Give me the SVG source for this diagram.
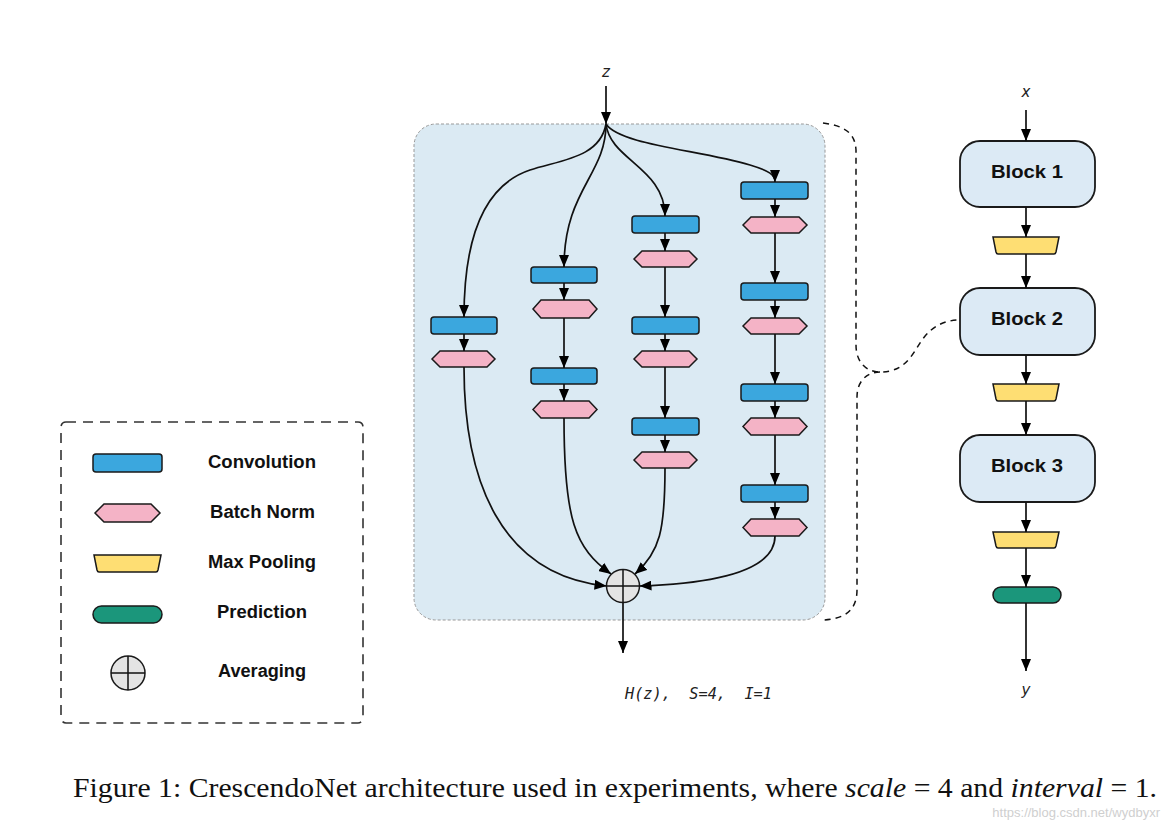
<svg xmlns="http://www.w3.org/2000/svg" width="1173" height="828" viewBox="0 0 1173 828">
<style>
.conv{fill:#3ba7de;stroke:#1a1a1a;stroke-width:1.5}
.bn{fill:#f4b3c6;stroke:#1a1a1a;stroke-width:1.5}
.mp{fill:#fede73;stroke:#1a1a1a;stroke-width:1.5}
.pred{fill:#1b967b;stroke:#1a1a1a;stroke-width:1.5}
.avg{fill:#e4e4e4;stroke:#1a1a1a;stroke-width:1.5}
.blk{fill:#dceaf5;stroke:#1a1a1a;stroke-width:1.8}
.edge{fill:none;stroke:#111;stroke-width:1.7;marker-end:url(#ah)}
.line{fill:none;stroke:#111;stroke-width:1.5}
.lbl{font-family:"Liberation Sans",Arial,sans-serif;font-weight:bold;font-size:17.5px;fill:#111}
.var{font-family:"DejaVu Sans","Liberation Sans",sans-serif;font-style:italic;font-size:15px;fill:#222;text-anchor:middle}
.dash{fill:none;stroke:#111;stroke-width:1.5;stroke-dasharray:6,5}
</style>
<defs>
<marker id="ah" markerUnits="userSpaceOnUse" markerWidth="12" markerHeight="10" refX="12" refY="5" orient="auto" viewBox="0 0 12 10">
<path d="M0,0 L12,5 L0,10 z" fill="#000"/>
</marker>
</defs>
<rect width="1173" height="828" fill="#fff"/>

<!-- main block container -->
<g id="block-detail">
<rect x="414" y="124" width="411" height="496" rx="22" fill="#dbeaf3" stroke="#999" stroke-width="1" stroke-dasharray="3,2"/>
</g>

<!-- legend -->
<g id="legend">
<rect x="61" y="422" width="302" height="301" rx="5" fill="none" stroke="#333" stroke-width="1.6" stroke-dasharray="10,7"/>
<rect class="conv" x="93" y="454" width="69" height="18" rx="3"/>
<text class="lbl" x="208" y="468" textLength="108" lengthAdjust="spacingAndGlyphs">Convolution</text>
<path class="bn" d="M95,513 L104,504 L151,504 L160,513 L151,522 L104,522 z"/>
<text class="lbl" x="210" y="518" textLength="105" lengthAdjust="spacingAndGlyphs">Batch Norm</text>
<path class="mp" d="M94,555 L161,555 L158,570 Q157.5,572 156,572 L99,572 Q97.5,572 97,570 z"/>
<text class="lbl" x="208" y="568" textLength="108" lengthAdjust="spacingAndGlyphs">Max Pooling</text>
<rect class="pred" x="93" y="606" width="69" height="17" rx="8.5"/>
<text class="lbl" x="217" y="618" textLength="90" lengthAdjust="spacingAndGlyphs">Prediction</text>
<circle class="avg" cx="128" cy="673" r="17"/>
<path class="line" d="M128,656 V690 M111,673 H145"/>
<text class="lbl" x="218" y="677" textLength="88" lengthAdjust="spacingAndGlyphs">Averaging</text>
</g>

<!-- nodes in block -->
<g id="col1">
<rect class="conv" x="431" y="317" width="66" height="17" rx="3"/>
<path class="bn" d="M432,359 L440,351 L487,351 L495,359 L487,367 L440,367 z"/>
</g>
<g id="col2">
<rect class="conv" x="531" y="267" width="66" height="16" rx="3"/>
<path class="bn" d="M533,309 L541,300 L589,300 L597,309 L589,318 L541,318 z"/>
<rect class="conv" x="531" y="368" width="66" height="16" rx="3"/>
<path class="bn" d="M533,409.5 L541,401 L589,401 L597,409.5 L589,418 L541,418 z"/>
</g>
<g id="col3">
<rect class="conv" x="632" y="216" width="67" height="17" rx="3"/>
<path class="bn" d="M634,259 L642,251 L689,251 L697,259 L689,267 L642,267 z"/>
<rect class="conv" x="632" y="317" width="67" height="17" rx="3"/>
<path class="bn" d="M634,359 L642,351 L689,351 L697,359 L689,367 L642,367 z"/>
<rect class="conv" x="632" y="418" width="67" height="17" rx="3"/>
<path class="bn" d="M634,460 L642,452 L689,452 L697,460 L689,468 L642,468 z"/>
</g>
<g id="col4">
<rect class="conv" x="741" y="182" width="67" height="17" rx="3"/>
<path class="bn" d="M743,225 L751,217 L799,217 L807,225 L799,233 L751,233 z"/>
<rect class="conv" x="741" y="283" width="67" height="17" rx="3"/>
<path class="bn" d="M743,326 L751,318 L799,318 L807,326 L799,334 L751,334 z"/>
<rect class="conv" x="741" y="384" width="67" height="17" rx="3"/>
<path class="bn" d="M743,426.5 L751,418 L799,418 L807,426.5 L799,435 L751,435 z"/>
<rect class="conv" x="741" y="485" width="67" height="17" rx="3"/>
<path class="bn" d="M743,527.5 L751,519 L799,519 L807,527.5 L799,536 L751,536 z"/>
</g>
<g id="average">
<circle class="avg" cx="623" cy="586" r="16.5"/>
<path class="line" d="M623,569.5 V602.5 M606.5,586 H639.5"/>
</g>

<!-- right column -->
<g id="block1">
<rect class="blk" x="960" y="141" width="135" height="66" rx="20"/>
<text class="lbl" x="991" y="178" style="font-size:19px" textLength="72" lengthAdjust="spacingAndGlyphs">Block 1</text>
</g>
<g id="pool1"><path class="mp" d="M993,237 L1059,237 L1056,252 Q1055.5,254 1054,254 L998,254 Q996.5,254 996,252 z"/></g>
<g id="block2">
<rect class="blk" x="960" y="288" width="135" height="67" rx="20"/>
<text class="lbl" x="991" y="325" style="font-size:19px" textLength="72" lengthAdjust="spacingAndGlyphs">Block 2</text>
</g>
<g id="pool2"><path class="mp" d="M993,384 L1059,384 L1056,399 Q1055.5,401 1054,401 L998,401 Q996.5,401 996,399 z"/></g>
<g id="block3">
<rect class="blk" x="960" y="435" width="135" height="67" rx="20"/>
<text class="lbl" x="991" y="472" style="font-size:19px" textLength="72" lengthAdjust="spacingAndGlyphs">Block 3</text>
</g>
<g id="pool3"><path class="mp" d="M993,532 L1059,532 L1056,546 Q1055.5,548 1054,548 L998,548 Q996.5,548 996,546 z"/></g>
<g id="prediction"><rect class="pred" x="993" y="587" width="68" height="16" rx="8"/></g>

<!-- connectors -->
<g id="connectors">
<path class="edge" d="M606,86 V124"/>
<path class="edge" d="M606,124 C600,158 560,160 530,170 C482,186 464,240 464,317"/>
<path class="edge" d="M606,124 C606,175 564,190 564,267"/>
<path class="edge" d="M606,124 C610,160 665,168 665,216"/>
<path class="edge" d="M606,124 C620,145 700,150 750,165 C770,171 775,175 775,182"/>
<path class="edge" d="M464,334 V351"/>
<path class="edge" d="M564,283 V300"/>
<path class="edge" d="M564,318 V368"/>
<path class="edge" d="M564,384 V401"/>
<path class="edge" d="M665,233 V251"/>
<path class="edge" d="M665,267 V317"/>
<path class="edge" d="M665,334 V351"/>
<path class="edge" d="M665,367 V418"/>
<path class="edge" d="M665,435 V452"/>
<path class="edge" d="M775,199 V217"/>
<path class="edge" d="M775,233 V283"/>
<path class="edge" d="M775,300 V318"/>
<path class="edge" d="M775,334 V384"/>
<path class="edge" d="M775,401 V418"/>
<path class="edge" d="M775,435 V485"/>
<path class="edge" d="M775,502 V519"/>
<path class="edge" d="M464,367 C464,480 500,575 606.5,586"/>
<path class="edge" d="M564,418 C564,520 575,548 611,574"/>
<path class="edge" d="M665,468 C665,530 660,552 635,574"/>
<path class="edge" d="M775,536 C775,575 700,584 639.5,586"/>
<path class="edge" d="M623,602.5 V653"/>
<path class="edge" d="M1026,110 V141"/>
<path class="edge" d="M1026,207 V237"/>
<path class="edge" d="M1026,254 V288"/>
<path class="edge" d="M1026,355 V384"/>
<path class="edge" d="M1026,401 V435"/>
<path class="edge" d="M1026,502 V532"/>
<path class="edge" d="M1026,548 V587"/>
<path class="edge" d="M1026,603 V671"/>
<path class="dash" d="M823,123 C845,126 855,133 856,150 V345 C856,362 866,372 880,372 C905,372 912,355 922,340 C932,326 945,320 960,320"/>
<path class="dash" d="M880,372 C866,372 857,382 857,397 V590 C857,610 845,619 823,620"/>
</g>

<g id="labels">
<text class="var" x="606" y="77">z</text>
<text class="var" x="1026" y="97">x</text>
<text class="var" x="1026" y="695">y</text>
<text x="625" y="699" font-family="DejaVu Sans Mono,monospace" font-style="italic" font-size="15" fill="#222" xml:space="preserve" textLength="147" lengthAdjust="spacingAndGlyphs">H(z),  S=4,  I=1</text>
</g>

<g id="caption">
<text x="73" y="797" font-family="Liberation Serif,'Times New Roman',serif" font-size="27" fill="#111" textLength="1084" lengthAdjust="spacingAndGlyphs">Figure 1: CrescendoNet architecture used in experiments, where <tspan font-style="italic">scale</tspan> = 4 and <tspan font-style="italic">interval</tspan> = 1.</text>
<text x="1160" y="817" text-anchor="end" font-family="Liberation Sans,sans-serif" font-size="13" fill="#cfcfcf">https://blog.csdn.net/wydbyxr</text>
</g>
</svg>
